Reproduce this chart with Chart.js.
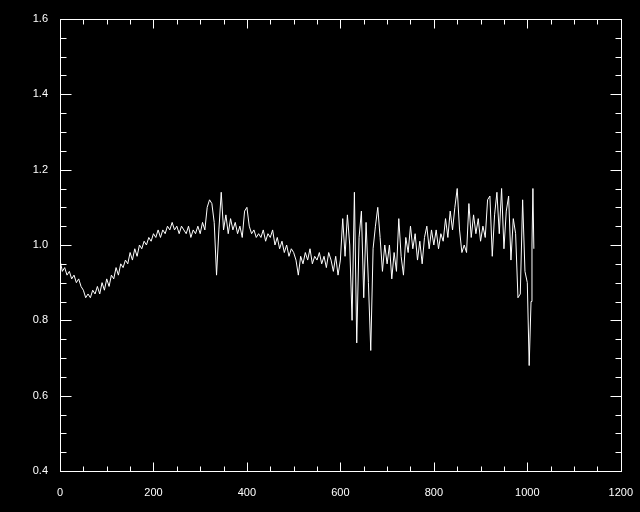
<!DOCTYPE html>
<html>
<head>
<meta charset="utf-8">
<script src="https://cdn.jsdelivr.net/npm/chart.js@4/dist/chart.umd.min.js"></script>
<style>
  html, body { margin: 0; padding: 0; background: #000; }
  #plot { display: block; }
</style>
</head>
<body>
<canvas id="plot" width="640" height="512"></canvas>
<script>
const sampleX = [
    0, 5, 10, 15, 20, 25, 30, 35, 40, 45,
    50, 55, 60, 65, 70, 75, 80, 85, 90, 95,
    100, 105, 110, 115, 120, 125, 130, 135, 140, 145,
    150, 155, 160, 165, 170, 175, 180, 185, 190, 195,
    200, 205, 210, 215, 220, 225, 230, 235, 240, 245,
    250, 255, 260, 265, 270, 275, 280, 285, 290, 295,
    300, 305, 310, 315, 320, 325, 330, 335, 340, 345,
    350, 355, 360, 365, 370, 375, 380, 385, 390, 395,
    400, 405, 410, 415, 420, 425, 430, 435, 440, 445,
    450, 455, 460, 465, 470, 475, 480, 485, 490, 495,
    500, 505, 510, 515, 520, 525, 530, 535, 540, 545,
    550, 555, 560, 565, 570, 575, 580, 585, 590, 595,
    600, 605, 610, 615, 620, 625, 630, 635, 640, 645,
    650, 655, 660, 665, 670, 675, 680, 685, 690, 695,
    700, 705, 710, 715, 720, 725, 730, 735, 740, 745,
    750, 755, 760, 765, 770, 775, 780, 785, 790, 795,
    800, 805, 810, 815, 820, 825, 830, 835, 840, 845,
    850, 855, 860, 865, 870, 875, 880, 885, 890, 895,
    900, 905, 910, 915, 920, 925, 930, 935, 940, 945,
    950, 955, 960, 965, 970, 975, 980, 985, 990, 995,
    1000, 1004, 1008, 1010, 1012, 1014
];

const sampleY = [
    0.96, 0.93, 0.94, 0.92, 0.93, 0.91, 0.92, 0.90, 0.91, 0.89,
    0.88, 0.86, 0.87, 0.86, 0.88, 0.87, 0.89, 0.87, 0.90, 0.88,
    0.91, 0.89, 0.92, 0.91, 0.94, 0.92, 0.95, 0.94, 0.96, 0.95,
    0.98, 0.96, 0.99, 0.97, 1.00, 0.99, 1.01, 1.00, 1.02, 1.01,
    1.03, 1.02, 1.04, 1.02, 1.04, 1.03, 1.05, 1.04, 1.06, 1.04,
    1.05, 1.03, 1.05, 1.04, 1.03, 1.05, 1.02, 1.04, 1.03, 1.05,
    1.03, 1.06, 1.04, 1.10, 1.12, 1.11, 1.06, 0.92, 1.04, 1.14,
    1.04, 1.08, 1.03, 1.07, 1.04, 1.06, 1.03, 1.05, 1.02, 1.09,
    1.10, 1.05, 1.03, 1.04, 1.02, 1.03, 1.02, 1.04, 1.01, 1.03,
    1.02, 1.04, 1.00, 1.02, 0.99, 1.01, 0.98, 1.00, 0.97, 0.99,
    0.98, 0.96, 0.92, 0.97, 0.95, 0.98, 0.96, 0.99, 0.95, 0.97,
    0.96, 0.98, 0.95, 0.97, 0.94, 0.98, 0.96, 0.93, 0.97, 0.92,
    0.96, 1.07, 0.97, 1.08, 1.00, 0.80, 1.14, 0.74, 1.02, 1.09,
    0.86, 1.06, 0.90, 0.72, 0.99, 1.05, 1.10, 1.02, 0.93, 1.00,
    0.95, 1.00, 0.91, 0.98, 0.93, 1.07, 0.97, 0.92, 1.02, 0.98,
    1.05, 0.99, 1.03, 0.96, 1.01, 0.95, 1.02, 1.05, 0.99, 1.04,
    1.00, 1.04, 0.99, 1.03, 1.01, 1.07, 1.02, 1.09, 1.04, 1.10,
    1.15, 1.04, 0.98, 1.00, 0.98, 1.11, 1.02, 1.08, 1.03, 1.07,
    1.01, 1.05, 1.02, 1.12, 1.13, 0.97, 1.08, 1.14, 1.03, 1.15,
    0.99, 1.09, 1.13, 0.96, 1.07, 1.03, 0.86, 0.87, 1.12, 0.93,
    0.90, 0.68, 0.85, 1.00, 1.15, 0.99
];

const xMajor = [0, 200, 400, 600, 800, 1000, 1200];
const yMajor = [0.4, 0.6, 0.8, 1.0, 1.2, 1.4, 1.6];

// tick marks on all four sides, IDL style
const frameTicks = {
    id: 'frameTicks',
    afterDraw(chart)
    {
        const ctx = chart.ctx;
        const a = chart.chartArea;
        const x = chart.scales.x;
        const y = chart.scales.y;
        const L = Math.round(a.left) + 0.5, R = Math.round(a.right) + 0.5;
        const T = Math.round(a.top) + 0.5, B = Math.round(a.bottom) + 0.5;

        ctx.save();
        ctx.strokeStyle = '#fff';
        ctx.lineWidth = 1;
        ctx.strokeRect(L, T, R - L, B - T);
        ctx.beginPath();
        for (let v = 0; v <= 1200; v += 50) {
            const px = Math.round(x.getPixelForValue(v)) + 0.5;
            const len = (v % 200 === 0) ? 9 : 5;
            ctx.moveTo(px, B); ctx.lineTo(px, B - len);
            ctx.moveTo(px, T); ctx.lineTo(px, T + len);
        }
        for (let i = 0; i <= 24; i++) {
            const v = 0.4 + i * 0.05;
            const py = Math.round(y.getPixelForValue(v)) + 0.5;
            const len = (i % 4 === 0) ? 11 : 6;
            ctx.moveTo(L, py); ctx.lineTo(L + len, py);
            ctx.moveTo(R, py); ctx.lineTo(R - len, py);
        }
        ctx.stroke();
        ctx.restore();
    }
};

document.addEventListener('DOMContentLoaded', init);

function init()
{
    const ctx = document.getElementById('plot').getContext('2d');

    new Chart(ctx,
    {
        type: 'line',
        data: {
            datasets: [{
                data: sampleX.map((v, i) => ({ x: v, y: sampleY[i] })),
                borderColor: '#fff',
                borderWidth: 1,
                pointRadius: 0,
                tension: 0,
                fill: false
            }]
        },
        options: {
            responsive: false,
            animation: false,
            events: [],
            layout: {
                padding: { top: 19, right: 15, left: 0, bottom: 0 }
            },
            plugins: {
                legend: { display: false },
                tooltip: { enabled: false }
            },
            scales: {
                x: {
                    type: 'linear',
                    min: 0,
                    max: 1200,
                    afterBuildTicks: (s) => { s.ticks = xMajor.map(v => ({ value: v })); },
                    afterFit: (s) => { s.height = 41; },
                    grid: { display: false },
                    border: { display: false },
                    ticks: {
                        color: '#fff',
                        padding: 7,
                        maxRotation: 0,
                        autoSkip: false,
                        font: { family: 'Liberation Sans', size: 11 },
                        callback: (v) => String(v)
                    }
                },
                y: {
                    type: 'linear',
                    min: 0.4,
                    max: 1.6,
                    afterBuildTicks: (s) => { s.ticks = yMajor.map(v => ({ value: v })); },
                    afterFit: (s) => { s.width = 60; },
                    grid: { display: false },
                    border: { display: false },
                    ticks: {
                        color: '#fff',
                        padding: 4,
                        autoSkip: false,
                        font: { family: 'Liberation Sans', size: 11 },
                        callback: (v) => v.toFixed(1)
                    }
                }
            }
        },
        plugins: [frameTicks]
    });
}
</script>
</body>
</html>
